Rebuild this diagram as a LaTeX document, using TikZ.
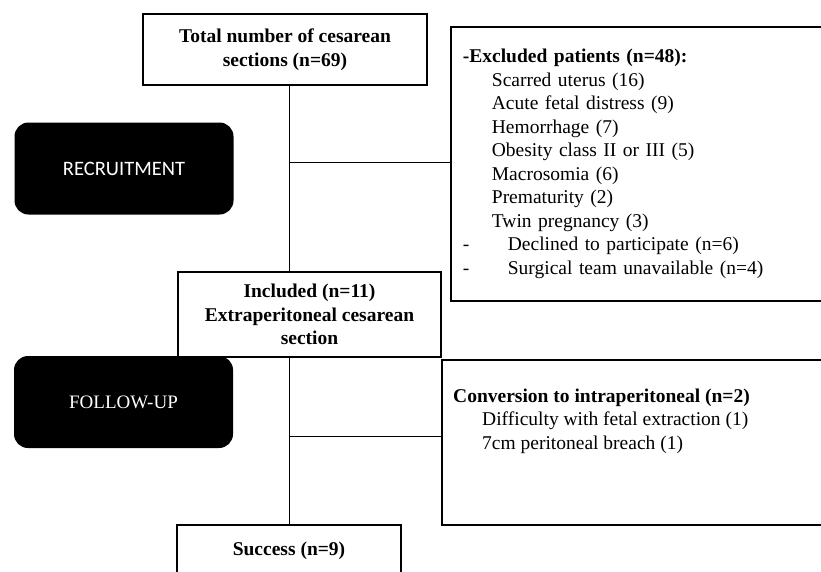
\documentclass[tikz,border=0pt]{standalone}
\usepackage{fontspec}
\setmainfont{Liberation Serif}
\newfontfamily\calibrifont{Carlito}
\usetikzlibrary{positioning}

\begin{document}
\begin{tikzpicture}[x=1pt,y=-1pt]
\tikzset{every node/.style={font=\fontsize{19.5}{23.5}\selectfont}}
\tikzset{flowbox/.style={draw,line width=1.8pt,inner sep=0pt,align=center,font=\fontsize{19.5}{23.5}\selectfont\bfseries}}
\tikzset{listbox/.style={draw,line width=1.8pt,anchor=north west,inner xsep=12pt,inner ysep=0pt,align=left,text width=380pt}}
\tikzset{stage/.style={fill=black,rounded corners=14pt,text=white,inner sep=0pt,minimum width=219pt,minimum height=92pt}}
\tikzset{link/.style={line width=1pt}}
\useasboundingbox (0,0) rectangle (821,571);
\clip (0,0) rectangle (821,571);

\node[flowbox,minimum width=284pt,minimum height=71pt] (total) at (285,49.5) {Total number of cesarean\\sections (n=69)};
\node[listbox,minimum height=274pt] (excl) at (450,26) {\textbf{-Excluded patients (n=48):}\\
  \hspace*{29pt}Scarred uterus (16)\\
  \hspace*{29pt}Acute fetal distress (9)\\
  \hspace*{29pt}Hemorrhage (7)\\
  \hspace*{29pt}Obesity class II or III (5)\\
  \hspace*{29pt}Macrosomia (6)\\
  \hspace*{29pt}Prematurity (2)\\
  \hspace*{29pt}Twin pregnancy (3)\\
  \makebox[45pt][l]{-}Declined to participate (n=6)\\
  \makebox[45pt][l]{-}Surgical team unavailable (n=4)};
\node[stage,font=\calibrifont\fontsize{20.5}{24}\selectfont] (recruit) at (124,168.5) {RECRUITMENT};
\node[flowbox,minimum width=263pt,minimum height=85pt] (incl) at (309.5,314.5) {Included (n=11)\\Extraperitoneal cesarean\\section};
\node[stage,font=\fontsize{19}{23}\selectfont] (follow) at (123.5,402) {FOLLOW-UP};
\node[listbox,minimum height=165pt] (conv) at (441,359) {};
\node[anchor=north west,inner sep=0pt,align=left] (convtxt) at ([xshift=12pt,yshift=-29.5pt]conv.north west) {\textbf{Conversion to intraperitoneal (n=2)}\\
  \hspace*{29pt}Difficulty with fetal extraction (1)\\
  \hspace*{29pt}7cm peritoneal breach (1)};
\node[flowbox,minimum width=224pt,minimum height=51pt] (success) at (289,550.5) {Success (n=9)};

% connectors
\coordinate (spine) at (289,0);
\draw[link] (total.south -| spine) -- (incl.north -| spine);
\draw[link] (incl.south -| spine) -- (success.north -| spine);
\draw[link] ([yshift=1.5pt]excl.west) -- ([yshift=1.5pt]excl.west -| spine);
\draw[link] ([yshift=5.5pt]conv.west) -- ([yshift=5.5pt]conv.west -| spine);
\end{tikzpicture}
\end{document}
